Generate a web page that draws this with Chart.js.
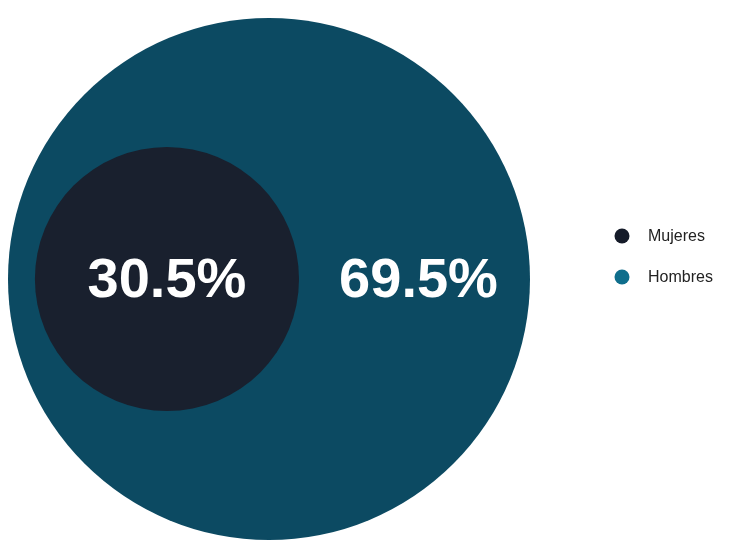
<!DOCTYPE html>
<html>
<head>
<meta charset="utf-8">
<script src="https://cdn.jsdelivr.net/npm/chart.js@4/dist/chart.umd.min.js"></script>
<style>
  html, body { margin: 0; padding: 0; background: #ffffff; }
  #wrap { width: 734px; height: 542px; position: relative; }
</style>
</head>
<body>
<div id="wrap"><canvas id="genderBubble"></canvas></div>
<script>
// data
const categories = ['Mujeres', 'Hombres'];
const shares = [30.5, 69.5];
const valueLabels = ['30.5%', '69.5%'];

// looks (kept apart from the data)
const fillColors = ['#19202e', '#0c4a62'];
const legendColors = ['#151b29', '#0f6e8c'];
const innerRatio = 0.506;   // small circle radius vs big circle, as drawn
const innerInset = 0.103;   // gap between left edges, in big-radius units
const pad = { left: 8, right: 204, top: 18, bottom: 2 };

const canvas = document.getElementById('genderBubble');
const ctx = canvas.getContext('2d');

// big circle radius in px = half the plot height (y runs -1..1)
// note: bubble radius gets resolved while parsing, before the scales exist,
// so work it out from the canvas size instead of the y scale
function unitPx(chart) {
  return (chart.height - pad.top - pad.bottom) / 2;
}

// big circle (Hombres) sits at the origin, the small one inside it on the left
const points = [
  { x: -1 + innerInset + innerRatio, y: 0 },
  { x: 0, y: 0 }
];

const valueLabelPlugin = {
  id: 'valueLabels',
  afterDatasetsDraw(chart) {
    const small = chart.getDatasetMeta(0).data[0];
    const big = chart.getDatasetMeta(1).data[0];
    if (!small || !big) return;
    const c = chart.ctx;
    const rs = small.options.radius;
    const rb = big.options.radius;
    c.save();
    c.fillStyle = '#ffffff';
    c.textAlign = 'center';
    c.textBaseline = 'middle';
    c.font = 'bold 56px "Liberation Sans", Arial, sans-serif';
    c.fillText(valueLabels[0], small.x, small.y + 3);
    // outer label goes in the middle of the ring on the right side
    const midX = ((small.x + rs) + (big.x + rb)) / 2 + 4;
    c.fillText(valueLabels[1], midX, big.y + 3);
    c.restore();
  }
};

const sideLegendPlugin = {
  id: 'sideLegend',
  afterDraw(chart) {
    const c = chart.ctx;
    const x0 = chart.chartArea.right + 92;
    const y0 = 236;
    c.save();
    c.font = '16px "Liberation Sans", Arial, sans-serif';
    c.textBaseline = 'middle';
    c.textAlign = 'left';
    categories.forEach((label, i) => {
      const y = y0 + i * 41;
      c.beginPath();
      c.fillStyle = legendColors[i];
      c.arc(x0, y, 7.5, 0, Math.PI * 2);
      c.fill();
      c.fillStyle = '#222222';
      c.fillText(label, x0 + 26, y + 1);
    });
    c.restore();
  }
};

new Chart(ctx, {
  type: 'bubble',
  data: {
    labels: categories,
    datasets: categories.map((label, i) => ({
      label,
      data: [points[i]],
      backgroundColor: fillColors[i],
      hoverBackgroundColor: fillColors[i],
      borderWidth: 0,
      hoverBorderWidth: 0,
      clip: false,
      radius(context) {
        const u = unitPx(context.chart);
        return i === 0 ? u * innerRatio : u;
      },
      hoverRadius: 0
    }))
  },
  options: {
    responsive: true,
    maintainAspectRatio: false,
    animation: false,
    layout: {
      autoPadding: false,
      padding: pad
    },
    scales: {
      x: { type: 'linear', min: -1, max: 1, display: false },
      y: { type: 'linear', min: -1, max: 1, display: false }
    },
    plugins: {
      legend: { display: false },
      tooltip: { enabled: false }
    }
  },
  plugins: [valueLabelPlugin, sideLegendPlugin]
});
</script>
</body>
</html>
